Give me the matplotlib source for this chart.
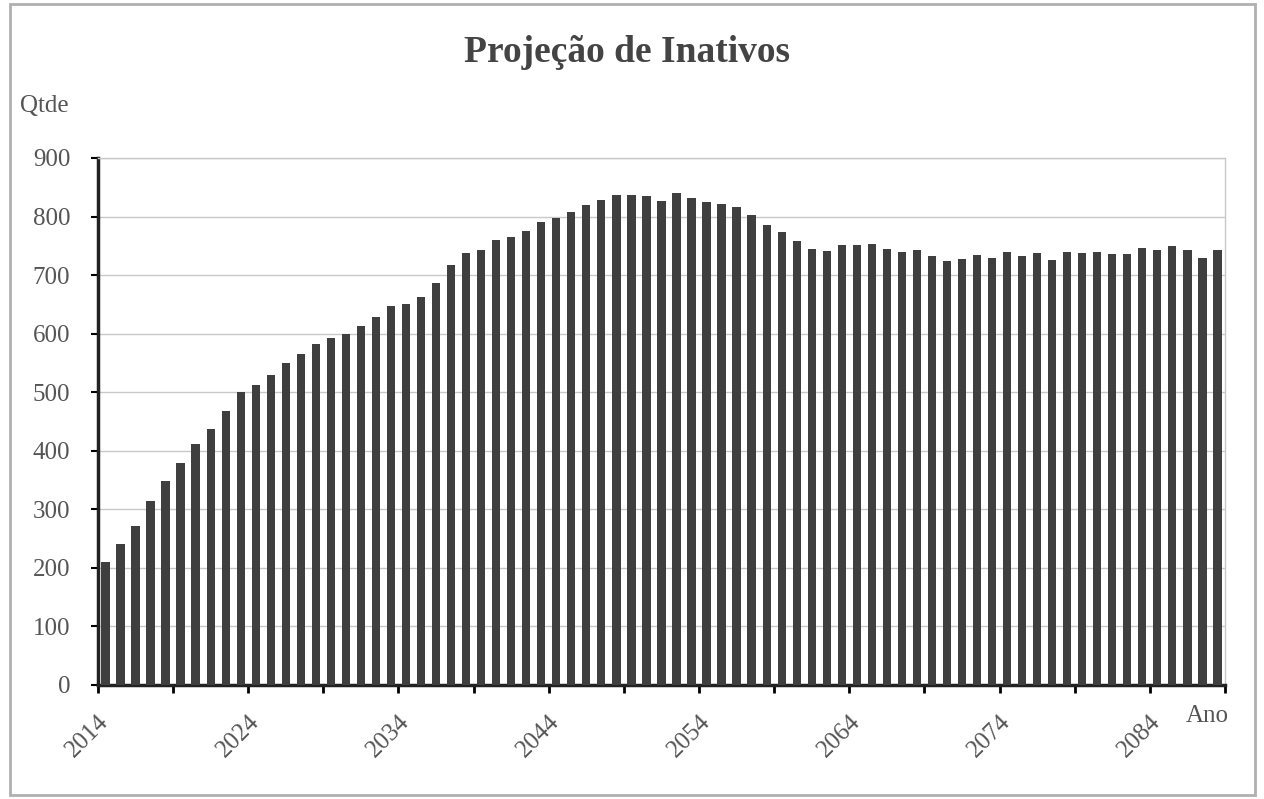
import matplotlib.pyplot as plt
import matplotlib.patches as patches
import numpy as np

# Data
years = list(range(2014, 2089))
inativos = [210, 240, 272, 315, 348, 379, 412, 437, 468, 501,
            513, 529, 550, 565, 583, 593, 599, 613, 629, 648,
            651, 663, 686, 717, 738, 742, 760, 765, 775, 790,
            797, 807, 819, 829, 837, 836, 835, 827, 841, 832,
            824, 822, 816, 802, 786, 774, 759, 744, 741, 751,
            752, 753, 745, 739, 742, 733, 724, 728, 734, 729,
            740, 732, 737, 726, 739, 737, 740, 736, 736, 747,
            743, 749, 742, 729, 742]
label_years = [2014, 2024, 2034, 2044, 2054, 2064, 2074, 2084]

plt.rcParams['font.family'] = ['Liberation Serif', 'DejaVu Serif']

fig = plt.figure(figsize=(12.64, 7.99), dpi=100)
ax = fig.add_axes([0.0775, 0.1427, 0.8916, 0.6596])

x = np.arange(len(years))
ax.bar(x, inativos, width=0.55, color='#3f3f3f', zorder=3)

ax.set_xlim(-0.5, len(years) - 0.5)
ax.set_ylim(0, 900)
ax.set_yticks(range(0, 901, 100))
ax.tick_params(axis='y', labelsize=18, labelcolor='#555555', length=5,
               width=1.5, direction='out', pad=15)
ax.grid(axis='y', color='#c8c8c8', linewidth=1, zorder=0)

# boundary ticks every 5 categories, labels every 10 on the categories
ax.set_xticks(np.arange(-0.5, len(years), 5))
ax.set_xticklabels([])
ax.tick_params(axis='x', which='major', length=6, width=2, direction='out')
lab_pos = [years.index(y) for y in label_years]
ax.set_xticks(lab_pos, minor=True)
ax.set_xticklabels([str(y) for y in label_years], minor=True, rotation=45,
                   ha='right', va='center', rotation_mode='anchor',
                   fontsize=18, color='#555555')
ax.tick_params(axis='x', which='minor', length=0, pad=24)

for s in ['left', 'bottom']:
    ax.spines[s].set_linewidth(2.5)
    ax.spines[s].set_color('#222222')
for s in ['top', 'right']:
    ax.spines[s].set_color('#c8c8c8')
    ax.spines[s].set_linewidth(1)

fig.text(0.496, 0.922, 'Projeção de Inativos', ha='center', va='baseline',
         fontsize=27, fontweight='bold', color='#444444')
fig.text(0.016, 0.86, 'Qtde', ha='left', va='baseline', fontsize=18, color='#555555')
fig.text(0.938, 0.0964, 'Ano', ha='left', va='baseline', fontsize=18, color='#555555')

# outer chart border
fig.patches.append(patches.Rectangle((0.008, 0.005), 0.985, 0.99,
                                     transform=fig.transFigure, fill=False,
                                     edgecolor='#b0b0b0', linewidth=2))

plt.savefig('out.png', dpi=100)
